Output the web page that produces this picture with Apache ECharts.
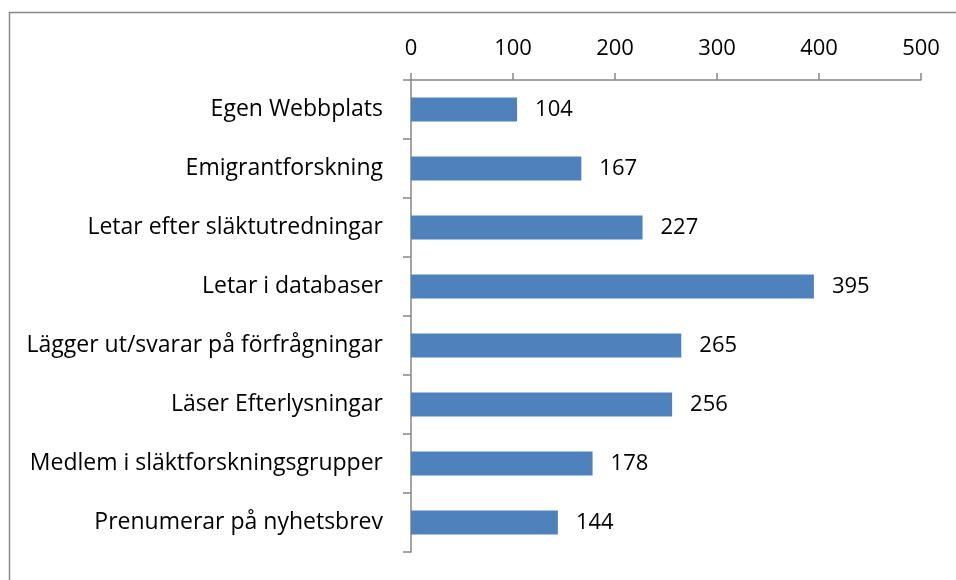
<!DOCTYPE html>
<html>
<head>
<meta charset="utf-8">
<script src="https://cdn.jsdelivr.net/npm/echarts@6/dist/echarts.min.js"></script>
<style>
  html, body { margin: 0; padding: 0; background: #fff; }
  #chart { width: 956px; height: 580px; }
</style>
</head>
<body>
<div id="chart"></div>
<script>
// kategorier, uppifrån och ner
const categories = [
  'Egen Webbplats',
  'Emigrantforskning',
  'Letar efter släktutredningar',
  'Letar i databaser',
  'Lägger ut/svarar på förfrågningar',
  'Läser Efterlysningar',
  'Medlem i släktforskningsgrupper',
  'Prenumerar på nyhetsbrev'
];
const values = [104, 167, 227, 395, 265, 256, 178, 144];
const xTicks = [0, 100, 200, 300, 400, 500];

const axisGrey = '#868686';
const font = 'Open Sans';

const chart = echarts.init(document.getElementById('chart'));
chart.setOption({
  animation: false,
  grid: { left: 411, top: 80, right: 35, bottom: 28 },
  graphic: [{
    // ram runt diagrammet (höger/nederkant utanför bilden)
    type: 'rect',
    shape: { x: 9.5, y: 12.5, width: 1000, height: 1000 },
    style: { fill: 'none', stroke: '#888', lineWidth: 1.5 },
    silent: true
  }],
  xAxis: {
    type: 'value',
    position: 'top',
    min: xTicks[0],
    max: xTicks[xTicks.length - 1],
    interval: 100,
    splitLine: { show: false },
    axisLine: { show: true, lineStyle: { color: axisGrey, width: 1.5 } },
    axisTick: { show: true, length: 7, lineStyle: { color: axisGrey, width: 1.5 } },
    axisLabel: { color: '#000', fontFamily: font, fontSize: 22, margin: 20 }
  },
  yAxis: {
    type: 'category',
    data: categories,
    inverse: true,
    axisLine: { show: true, lineStyle: { color: axisGrey, width: 1.5 } },
    axisTick: { show: true, length: 8, lineStyle: { color: axisGrey, width: 1.5 } },
    axisLabel: { color: '#000', fontFamily: font, fontSize: 23, margin: 28 }
  },
  series: [{
    type: 'bar',
    data: values,
    barWidth: 24,
    itemStyle: { color: '#4F81BD' },
    label: {
      show: true,
      position: 'right',
      distance: 18,
      color: '#000',
      fontFamily: font,
      fontSize: 22
    }
  }]
});
</script>
</body>
</html>
